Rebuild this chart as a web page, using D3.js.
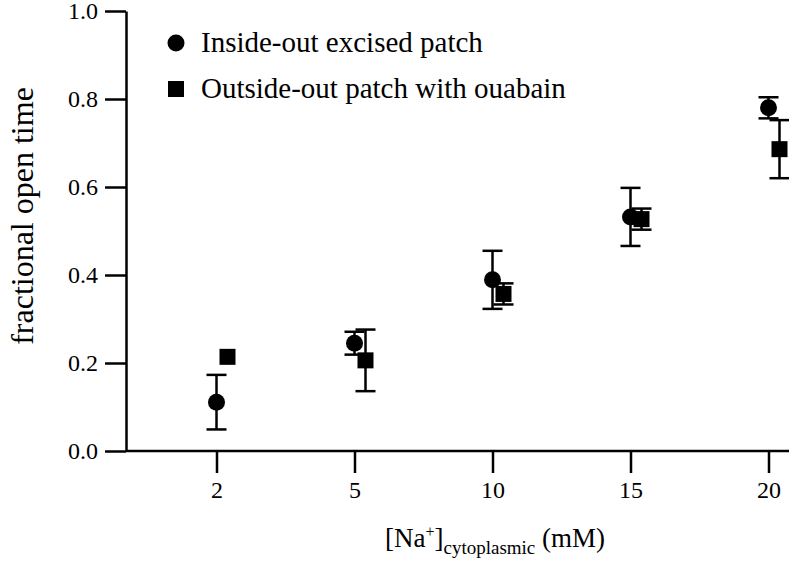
<!DOCTYPE html>
<html>
<head>
<meta charset="utf-8">
<script src="https://cdn.jsdelivr.net/npm/d3@7"></script>
<style>
  body { margin: 0; background: #fff; }
  svg text { font-family: 'Liberation Serif', 'Times New Roman', serif; fill: #000; }
</style>
</head>
<body>
<div id="chart"></div>
<script>
// categories on the x axis ([Na+] mM)
const concentrations = ['2', '5', '10', '15', '20'];
// inside-out excised patch (circles)
const insideOutMean = [0.111, 0.245, 0.389, 0.532, 0.780];
const insideOutErr = [0.062, 0.026, 0.066, 0.066, 0.024];
// outside-out patch with ouabain (squares)
const outsideOutMean = [0.214, 0.206, 0.357, 0.527, 0.686];
const outsideOutErr = [0, 0.070, 0.024, 0.024, 0.066];
const yTicks = [0, 0.2, 0.4, 0.6, 0.8, 1.0];
const seriesNames = ['Inside-out excised patch', 'Outside-out patch with ouabain'];

const width = 789, height = 567;
const margin = {top: 11, right: 0, bottom: 116, left: 126};

const svg = d3.select('#chart').append('svg')
  .attr('width', width)
  .attr('height', height);

const x = d3.scalePoint()
  .domain(concentrations)
  .range([216.5, 768.5]);

const y = d3.scaleLinear()
  .domain([0, 1])
  .range([height - margin.bottom, margin.top]);

const offset = 11; // squares sit a bit right of the tick

// y axis
const yAxis = svg.append('g')
  .attr('transform', 'translate(' + margin.left + ',0)')
  .call(d3.axisLeft(y).tickValues(yTicks).tickFormat(d3.format('.1f')).tickSize(21).tickSizeOuter(0).tickPadding(7));
yAxis.attr('font-family', null).attr('font-size', 24);
yAxis.select('.domain').attr('stroke-width', 2.5);
yAxis.selectAll('.tick line').attr('stroke-width', 2.5);

// x axis (line drawn across the full width)
const xAxis = svg.append('g')
  .attr('transform', 'translate(0,' + y(0) + ')')
  .call(d3.axisBottom(x).tickSize(22).tickSizeOuter(0).tickPadding(8));
xAxis.attr('font-family', null).attr('font-size', 24);
xAxis.select('.domain').remove();
xAxis.selectAll('.tick line').attr('stroke-width', 2.5);
svg.append('line')
  .attr('x1', margin.left).attr('x2', width)
  .attr('y1', y(0)).attr('y2', y(0))
  .attr('stroke', '#000').attr('stroke-width', 2.5);

// error bars helper
function errorBars(means, errs, dx) {
  const g = svg.append('g').attr('stroke', '#000').attr('stroke-width', 2.5);
  concentrations.forEach((c, i) => {
    if (!errs[i]) { return; }
    const cx = x(c) + dx;
    g.append('line').attr('x1', cx).attr('x2', cx)
      .attr('y1', y(means[i] + errs[i])).attr('y2', y(means[i] - errs[i]));
    [means[i] + errs[i], means[i] - errs[i]].forEach((v) => {
      g.append('line').attr('x1', cx - 10).attr('x2', cx + 10)
        .attr('y1', y(v)).attr('y2', y(v));
    });
  });
}

errorBars(insideOutMean, insideOutErr, 0);
errorBars(outsideOutMean, outsideOutErr, offset);

svg.append('g').selectAll('circle')
  .data(insideOutMean)
  .join('circle')
  .attr('cx', (d, i) => x(concentrations[i]))
  .attr('cy', (d) => y(d))
  .attr('r', 8.5)
  .attr('fill', '#000');

svg.append('g').selectAll('rect')
  .data(outsideOutMean)
  .join('rect')
  .attr('x', (d, i) => x(concentrations[i]) + offset - 8)
  .attr('y', (d) => y(d) - 8)
  .attr('width', 16)
  .attr('height', 16)
  .attr('fill', '#000');

// legend
const legend = svg.append('g');
legend.append('circle').attr('cx', 176).attr('cy', 43).attr('r', 8.5).attr('fill', '#000');
legend.append('rect').attr('x', 168).attr('y', 81).attr('width', 16).attr('height', 16).attr('fill', '#000');
legend.selectAll('text')
  .data(seriesNames)
  .join('text')
  .attr('x', 201)
  .attr('y', (d, i) => 52 + i * 46)
  .style('font-size', '29px')
  .text((d) => d);

// axis titles
svg.append('text')
  .attr('transform', 'translate(33,216) rotate(-90)')
  .attr('text-anchor', 'middle')
  .style('font-size', '32px')
  .text('fractional open time');

const xTitle = svg.append('text')
  .attr('x', 495)
  .attr('y', 547)
  .attr('text-anchor', 'middle')
  .style('font-size', '27px');
xTitle.append('tspan').text('[Na');
xTitle.append('tspan').attr('dy', -10).style('font-size', '16px').text('+');
xTitle.append('tspan').attr('dy', 10).text(']');
xTitle.append('tspan').attr('dy', 7).style('font-size', '19px').text('cytoplasmic');
xTitle.append('tspan').attr('dy', -7).text(' (mM)');
</script>
</body>
</html>
